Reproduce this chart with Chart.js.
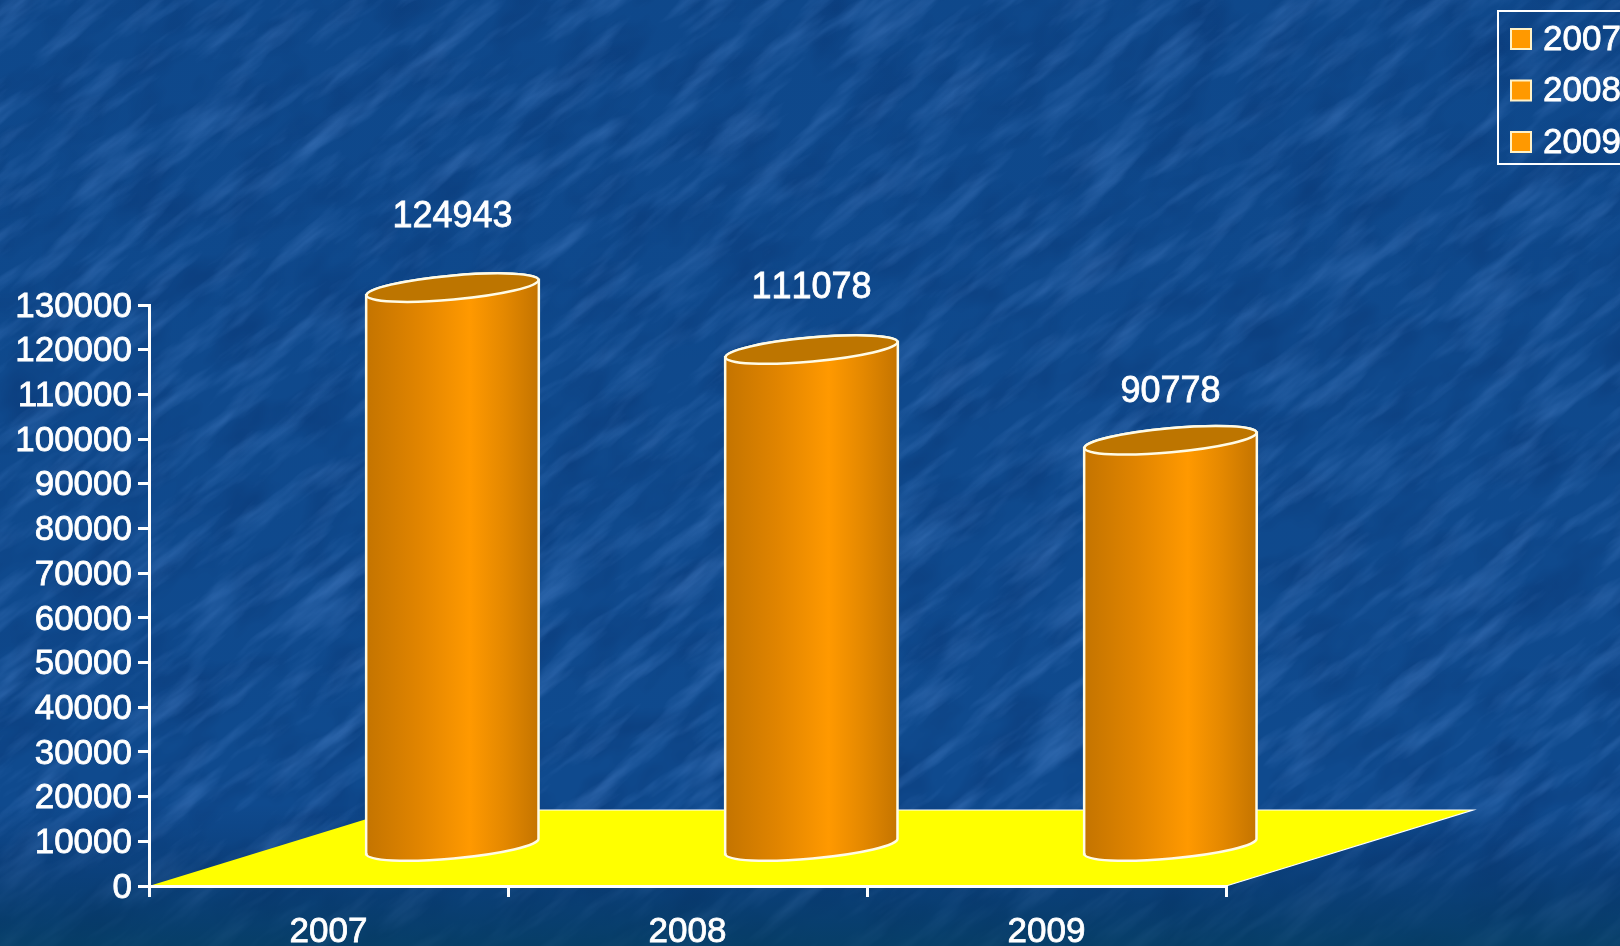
<!DOCTYPE html>
<html>
<head>
<meta charset="utf-8">
<title>Chart</title>
<script src="https://cdn.jsdelivr.net/npm/chart.js@4"></script>
<style>
html, body { margin: 0; padding: 0; background: #0f4a8e; overflow: hidden; }
#wrap { position: relative; width: 1620px; height: 946px; overflow: hidden; }
#bg { position: absolute; left: 0; top: 0; }
#graphique { position: absolute; left: 0; top: 0; filter: blur(0.5px); }
</style>
</head>
<body>
<div id="wrap">
<svg id="bg" width="1620" height="946" xmlns="http://www.w3.org/2000/svg">
  <defs>
    <filter id="grain" x="0" y="0" width="100%" height="100%" color-interpolation-filters="sRGB">
      <feTurbulence type="fractalNoise" baseFrequency="0.01 0.05" numOctaves="4" seed="7"/>
      <feColorMatrix type="matrix" values="0 0 0 0 0.26  0 0 0 0 0.48  0 0 0 0 0.76  1.3 0 0 0 -0.6"/>
    </filter>
    <filter id="dark" x="0" y="0" width="100%" height="100%" color-interpolation-filters="sRGB">
      <feTurbulence type="fractalNoise" baseFrequency="0.014 0.024" numOctaves="3" seed="21"/>
      <feColorMatrix type="matrix" values="0 0 0 0 0.03  0 0 0 0 0.20  0 0 0 0 0.44  1.0 0 0 0 -0.42"/>
    </filter>
    <linearGradient id="shade" x1="0" y1="0" x2="0" y2="1">
      <stop offset="0" stop-color="#062a5c" stop-opacity="0.06"/>
      <stop offset="0.85" stop-color="#062a5c" stop-opacity="0"/>
      <stop offset="0.93" stop-color="#04305a" stop-opacity="0.4"/>
      <stop offset="1" stop-color="#033a58" stop-opacity="0.7"/>
    </linearGradient>
  </defs>
  <rect width="1620" height="946" fill="#0f4a8e"/>
  <rect x="-900" y="-900" width="3400" height="2800" filter="url(#dark)" transform="rotate(-38 810 473)"/>
  <rect x="-900" y="-900" width="3400" height="2800" filter="url(#grain)" transform="rotate(-38 810 473)"/>
  <rect width="1620" height="946" fill="url(#shade)"/>
</svg>
<canvas id="graphique" width="1620" height="946"></canvas>
</div>
<script>
const categories = ['2007', '2008', '2009'];
const values = [124943, 111078, 90778];
const yMax = 130000;
const yStep = 10000;

const font = 'Arial, "Liberation Sans", sans-serif';
const depthX = 247;
const depthY = 76;

// floor of the 3D box, goes under the axes
const floorPlugin = {
  id: 'floor',
  beforeDraw(chart) {
    const { ctx, chartArea } = chart;
    const y0 = chart.scales.y.getPixelForValue(0);
    ctx.save();
    ctx.beginPath();
    ctx.moveTo(chartArea.left, y0);
    ctx.lineTo(chartArea.right, y0);
    ctx.lineTo(chartArea.right + depthX, y0 - depthY);
    ctx.lineTo(chartArea.left + depthX, y0 - depthY);
    ctx.closePath();
    ctx.fillStyle = '#ffff00';
    ctx.fill();
    ctx.beginPath();
    ctx.moveTo(chartArea.left + depthX, y0 - depthY);
    ctx.lineTo(chartArea.right + depthX, y0 - depthY);
    ctx.lineTo(chartArea.right, y0);
    ctx.strokeStyle = '#ffffff';
    ctx.lineWidth = 1.2;
    ctx.stroke();
    ctx.restore();
  }
};

// the bars are turned into cylinders standing in the middle of the floor
const cylinderPlugin = {
  id: 'cylinder',
  afterDatasetsDraw(chart) {
    const { ctx } = chart;
    const yScale = chart.scales.y;
    const meta = chart.getDatasetMeta(0);
    const rot = -0.09;
    meta.data.forEach((bar, i) => {
      const cx = bar.x + depthX / 2 + 0.5;
      const top = bar.y - depthY / 2 - 2;
      const bottom = bar.base - depthY / 2;
      const a = bar.width / 2;
      const b = 12;
      const dy = a * Math.sin(rot);
      const left = cx - a;
      const right = cx + a;

      const grad = ctx.createLinearGradient(left, 0, right, 0);
      grad.addColorStop(0, '#c47400');
      grad.addColorStop(0.3, '#e08400');
      grad.addColorStop(0.6, '#ff9900');
      grad.addColorStop(0.8, '#e48800');
      grad.addColorStop(1, '#c47400');

      ctx.save();
      ctx.beginPath();
      ctx.moveTo(left, top - dy);
      ctx.lineTo(left, bottom - dy);
      ctx.ellipse(cx, bottom, a, b, rot, Math.PI, 0, true);
      ctx.lineTo(right, top + dy);
      ctx.ellipse(cx, top, a, b, rot, 0, Math.PI, true);
      ctx.closePath();
      ctx.fillStyle = grad;
      ctx.fill();
      ctx.strokeStyle = '#fffbe6';
      ctx.lineWidth = 2.5;
      ctx.stroke();

      ctx.beginPath();
      ctx.ellipse(cx, top, a, b, rot, 0, Math.PI * 2);
      ctx.fillStyle = '#bd7500';
      ctx.fill();
      ctx.stroke();

      ctx.fillStyle = '#ffffff';
      ctx.strokeStyle = '#ffffff';
      ctx.lineWidth = 0.8;
      ctx.font = '36px ' + font;
      ctx.fontKerning = 'none';
      ctx.textAlign = 'center';
      ctx.textBaseline = 'middle';
      const labelY = yScale.getPixelForValue(values[i] * 1.146) - 29;
      ctx.fillText(String(values[i]), cx, labelY);
      ctx.strokeText(String(values[i]), cx, labelY);
      ctx.restore();
    });
  }
};

// legend box in the top right corner, runs off the edge of the page
const legendPlugin = {
  id: 'legendBox',
  afterDraw(chart) {
    const { ctx } = chart;
    ctx.save();
    ctx.strokeStyle = '#ffffff';
    ctx.lineWidth = 2;
    ctx.strokeRect(1498, 11, 140, 153);
    ctx.font = '35px ' + font;
    ctx.textBaseline = 'middle';
    ctx.textAlign = 'left';
    categories.forEach((name, i) => {
      const y = 39 + i * 51.5;
      ctx.fillStyle = '#ff9900';
      ctx.strokeStyle = '#fff2c8';
      ctx.lineWidth = 2;
      ctx.fillRect(1511, y - 10, 20, 20);
      ctx.strokeRect(1511, y - 10, 20, 20);
      ctx.fillStyle = '#ffffff';
      ctx.strokeStyle = '#ffffff';
      ctx.lineWidth = 0.8;
      ctx.fillText(name, 1543, y + 1);
      ctx.strokeText(name, 1543, y + 1);
    });
    ctx.restore();
  }
};

new Chart(document.getElementById('graphique'), {
  type: 'bar',
  data: {
    labels: categories,
    datasets: [{
      label: 'Valeur',
      data: values,
      backgroundColor: 'transparent',
      borderWidth: 0,
      barPercentage: 1,
      categoryPercentage: 0.481
    }]
  },
  options: {
    responsive: false,
    animation: false,
    layout: { padding: { top: 305, right: 394, left: 0, bottom: 0 } },
    plugins: { legend: { display: false }, tooltip: { enabled: false } },
    scales: {
      x: {
        afterFit(scale) { scale.height = 60; },
        border: { color: '#ffffff', width: 3 },
        grid: { drawOnChartArea: false, color: '#ffffff', lineWidth: 3, tickLength: 11 },
        ticks: {
          color: '#ffffff',
          font: { family: font, size: 35 },
          padding: 14,
          maxRotation: 0,
          textStrokeColor: '#ffffff',
          textStrokeWidth: 0.8
        }
      },
      y: {
        min: 0,
        max: yMax,
        afterFit(scale) { scale.width = 149; },
        border: { color: '#ffffff', width: 3 },
        grid: { drawOnChartArea: false, color: '#ffffff', lineWidth: 3, tickLength: 11 },
        ticks: {
          color: '#ffffff',
          stepSize: yStep,
          autoSkip: false,
          font: { family: font, size: 35 },
          padding: 6,
          labelOffset: 2,
          textStrokeColor: '#ffffff',
          textStrokeWidth: 0.8,
          callback: (v) => String(v)
        }
      }
    }
  },
  plugins: [floorPlugin, cylinderPlugin, legendPlugin]
});
</script>
</body>
</html>
